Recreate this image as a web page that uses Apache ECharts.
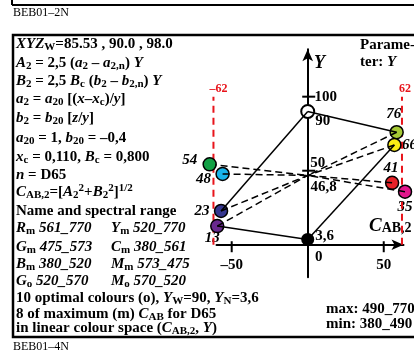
<!DOCTYPE html>
<html>
<head>
<meta charset="utf-8">
<script src="https://cdn.jsdelivr.net/npm/echarts@6/dist/echarts.min.js"></script>
<style>
  html, body { margin: 0; padding: 0; background: #fff; }
  #chart { width: 414px; height: 355px; }
</style>
</head>
<body>
<div id="chart"></div>
<script>
// colour points (C_AB,2 on x, Y on y)
const colourNames = ["yellow-green", "yellow", "red", "magenta", "green", "cyan", "blue", "violet"];
const colourCab = [58.5, 57, 55.5, 64, -64.5, -56, -57, -59.5];
const colourY = [76, 67.4, 41.8, 35.8, 54.3, 47.8, 22.8, 12.6];
const colourLabels = ["76", "66", "41", "35", "54", "48", "23", "13"];

// grey axis points
const whiteY = 90;
const blackY = 3.6;
const centreY = 46.8;

// solid links: [start Y on the grey axis, colour index]
const solidLinks = [[whiteY, 0], [whiteY, 6], [blackY, 7], [blackY, 1]];

// red limit lines
const limitCab = [-62, 62];
const limitYRange = [0, 100];

// axis ticks
const xTickValues = [-50, 50];
const xLabelValues = [-50, 0, 50];
const yTickValues = [50, 100];

// styles
const colourFills = ["#a6c935", "#f9ec14", "#e62228", "#e2168c", "#12a045", "#19b3ea", "#35368f", "#69298e"];
const colourLabelOffsets = [[-3, -18], [15, 0], [-1, -15], [0, 15], [-20, -4], [-19, 5], [-19, 0], [-5, 12]];
const limitLabelOffsets = [[5, -8], [3, -8]];
const FONT = '"Liberation Serif", "Times New Roman", serif';
const RED = "#e8141b";

const fmt = (v) => String(v).replace(".", ",").replace("-", "\u2013");

const chart = echarts.init(document.getElementById("chart"), null, { renderer: "canvas" });

const labelItem = (value, text, offset, extra) => ({
  value: value,
  label: Object.assign({ show: true, formatter: text, offset: offset }, extra || {}),
});

const labelData = [];
colourCab.forEach((c, i) => {
  labelData.push(labelItem([c, colourY[i]], colourLabels[i], colourLabelOffsets[i], { fontStyle: "italic" }));
});
xLabelValues.forEach((v) => {
  labelData.push(labelItem([v, 0], fmt(v), v === 0 ? [11, 12] : [0, 20]));
});
yTickValues.forEach((v) => {
  labelData.push(labelItem([0, v], fmt(v), v === 100 ? [18, 0] : [10, -8]));
});
labelData.push(labelItem([0, whiteY], fmt(whiteY), [15, 10]));
labelData.push(labelItem([0, centreY], fmt(centreY), [16, 12]));
labelData.push(labelItem([0, blackY], fmt(blackY), [17, -3]));
limitCab.forEach((c, k) => {
  labelData.push(labelItem([c, limitYRange[1]], fmt(c), limitLabelOffsets[k], { color: RED, fontSize: 12 }));
});

const series = [];

// labels under everything
series.push({
  type: "scatter",
  z: 1,
  clip: false,
  symbolSize: 1,
  itemStyle: { color: "rgba(0,0,0,0)", opacity: 1 },
  label: {
    position: "inside",
    color: "#000",
    opacity: 1,
    textBorderWidth: 0,
    fontFamily: FONT,
    fontWeight: "bold",
    fontSize: 15,
  },
  data: labelData,
});

// red limit lines
series.push({
  type: "custom",
  z: 2,
  clip: false,
  encode: { x: 0, y: [1, 2] },
  data: limitCab.map((c) => [c, limitYRange[0], limitYRange[1]]),
  renderItem: (params, api) => {
    const p0 = api.coord([api.value(0), api.value(1)]);
    const p1 = api.coord([api.value(0), api.value(2)]);
    return {
      type: "line",
      shape: { x1: p0[0], y1: p0[1], x2: p1[0], y2: p1[1] },
      style: { stroke: RED, lineWidth: 2, lineDash: [7, 5] },
    };
  },
});

// colour circles
series.push({
  type: "scatter",
  z: 3,
  clip: false,
  symbolSize: 13,
  data: colourCab.map((c, i) => ({
    name: colourNames[i],
    value: [c, colourY[i]],
    itemStyle: { color: colourFills[i] },
  })),
  itemStyle: { borderColor: "#000", borderWidth: 1.5, opacity: 1 },
});

// white and black points
series.push({
  type: "scatter",
  z: 3,
  clip: false,
  symbolSize: 13,
  itemStyle: { opacity: 1 },
  data: [
    { value: [0, whiteY], itemStyle: { color: "#fff", borderColor: "#000", borderWidth: 2 } },
    { value: [0, blackY], itemStyle: { color: "#000" } },
  ],
});

// solid links
solidLinks.forEach(([y0, i]) => {
  series.push({
    type: "line",
    z: 4,
    clip: false,
    symbol: "none",
    data: [[0, y0], [colourCab[i], colourY[i]]],
    lineStyle: { color: "#000", width: 1.5 },
  });
});

// dashed links to the centre
colourCab.forEach((c, i) => {
  series.push({
    type: "line",
    z: 4,
    clip: false,
    symbol: "none",
    data: [[c, colourY[i]], [0, centreY]],
    lineStyle: { color: "#000", width: 1.5, type: [7, 4] },
  });
});

// tick marks
series.push({
  type: "scatter",
  z: 5,
  symbol: "rect",
  symbolSize: [2, 11],
  symbolOffset: [0, 2],
  itemStyle: { color: "#000", opacity: 1 },
  data: xTickValues.map((v) => [v, 0]),
});
series.push({
  type: "scatter",
  z: 5,
  symbol: "rect",
  symbolSize: [13, 2],
  symbolOffset: [1, 0],
  itemStyle: { color: "#000", opacity: 1 },
  data: yTickValues.map((v) => [0, v]),
});

const rich = {
  i: { fontFamily: FONT, fontWeight: "bold", fontStyle: "italic", fontSize: 15 },
  s: { fontFamily: FONT, fontWeight: "bold", fontSize: 11, verticalAlign: "bottom" },
  p: { fontFamily: FONT, fontWeight: "bold", fontSize: 11, verticalAlign: "top" },
  y: { fontFamily: FONT, fontWeight: "bold", fontStyle: "italic", fontSize: 18 },
  c: { fontFamily: FONT, fontWeight: "bold", fontStyle: "italic", fontSize: 19 },
  cs: { fontFamily: FONT, fontWeight: "bold", fontSize: 14, verticalAlign: "bottom" },
};

const textEl = (x, y, text, size) => ({
  type: "text",
  x: x,
  y: y,
  style: {
    text: text,
    rich: rich,
    fill: "#000",
    fontFamily: FONT,
    fontWeight: "bold",
    fontSize: size || 15,
    lineHeight: 18,
    verticalAlign: "middle",
  },
});

const leftLines = [
  "{i|XYZ}{s|W}=85.53 , 90.0 , 98.0",
  "{i|A}{s|2} = 2,5 ({i|a}{s|2} \u2013 {i|a}{s|2,n}) {i|Y}",
  "{i|B}{s|2} = 2,5 {i|B}{s|c} ({i|b}{s|2} \u2013 {i|b}{s|2,n}) {i|Y}",
  "{i|a}{s|2} = {i|a}{s|20} [({i|x}\u2013{i|x}{s|c})/{i|y}]",
  "{i|b}{s|2} = {i|b}{s|20} [{i|z}/{i|y}]",
  "{i|a}{s|20} = 1, {i|b}{s|20} = \u20130,4",
  "{i|x}{s|c} = 0,110, {i|B}{s|c} = 0,800",
  "{i|n} = D65",
  "{i|C}{s|AB,2}=[{i|A}{s|2}{p|2}+{i|B}{s|2}{p|2}]{p|1/2}",
  "Name and spectral range",
  "{i|R}{s|m}{i| 561_770}",
  "{i|G}{s|m}{i| 475_573}",
  "{i|B}{s|m}{i| 380_520}",
  "{i|G}{s|o}{i| 520_570}",
  "10 optimal colours (o), {i|Y}{s|W}=90, {i|Y}{s|N}=3,6",
  "8 of maximum (m) {i|C}{s|AB} for D65",
  "in linear colour space ({i|C}{s|AB,2}, {i|Y})",
];
const leftLineY = [44, 63, 81, 99, 118, 138, 157, 175, 192, 211, 228, 247, 264, 281, 298, 314, 328];
const secondColumn = [
  [228, "{i|Y}{s|m}{i| 520_770}"],
  [247, "{i|C}{s|m}{i| 380_561}"],
  [264, "{i|M}{s|m}{i| 573_475}"],
  [281, "{i|M}{s|o}{i| 570_520}"],
];

const graphics = [
  { type: "line", shape: { x1: 12, y1: 5, x2: 414, y2: 5 }, style: { stroke: "#000", lineWidth: 2 } },
  { type: "line", shape: { x1: 12, y1: 0, x2: 12, y2: 5 }, style: { stroke: "#000", lineWidth: 2 } },
  { type: "rect", shape: { x: 13, y: 35, width: 420, height: 302 }, style: { fill: null, stroke: "#000", lineWidth: 2.5 } },
  { type: "text", x: 13, y: 13, style: { text: "BEB01\u20132N", fill: "#000", fontFamily: FONT, fontSize: 12, verticalAlign: "middle" } },
  { type: "text", x: 13, y: 347, style: { text: "BEB01\u20134N", fill: "#000", fontFamily: FONT, fontSize: 12, verticalAlign: "middle" } },
  textEl(360, 45, "Parame-"),
  textEl(360, 62, "ter: {i|Y}"),
  textEl(326, 309, "max: 490_770"),
  textEl(326, 324, "min: 380_490"),
  textEl(314, 63, "{y|Y}"),
  textEl(369, 226, "{c|C}{cs|AB,2}"),
];
leftLines.forEach((t, k) => graphics.push(textEl(16, leftLineY[k], t)));
secondColumn.forEach(([y, t]) => graphics.push(textEl(111, y, t)));

chart.setOption({
  animation: false,
  backgroundColor: "#fff",
  grid: { left: 216.5, right: 10.5, top: 49.3, bottom: 77.7 },
  xAxis: {
    type: "value",
    min: -60,
    max: 63,
    axisLine: {
      onZero: true,
      symbol: ["none", "arrow"],
      symbolSize: [8, 12],
      lineStyle: { color: "#000", width: 2 },
    },
    axisTick: { show: false },
    axisLabel: { show: false },
    splitLine: { show: false },
  },
  yAxis: {
    type: "value",
    min: -22,
    max: 132,
    axisLine: {
      onZero: true,
      symbol: ["none", "arrow"],
      symbolSize: [8, 12],
      lineStyle: { color: "#000", width: 2 },
    },
    axisTick: { show: false },
    axisLabel: { show: false },
    splitLine: { show: false },
  },
  graphic: graphics,
  series: series,
});
</script>
</body>
</html>
